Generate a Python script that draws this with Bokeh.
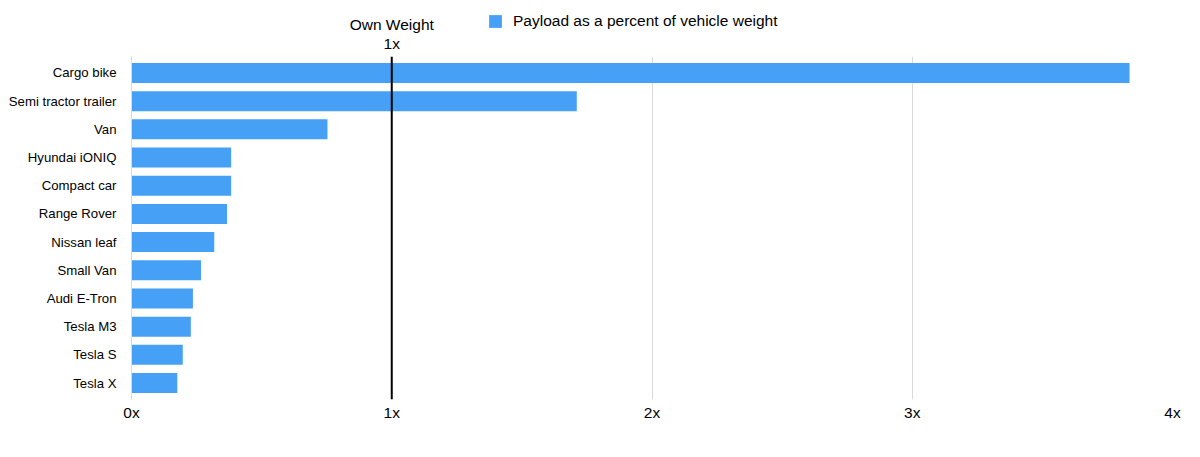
from bokeh.plotting import figure
from bokeh.models import FactorRange, Span, FixedTicker, Label, Range1d
from bokeh.layouts import column
from bokeh.embed import file_html
from bokeh.resources import INLINE

categories = ["Cargo bike", "Semi tractor trailer", "Van", "Hyundai iONIQ", "Compact car",
              "Range Rover", "Nissan leaf", "Small Van", "Audi E-Tron", "Tesla M3",
              "Tesla S", "Tesla X"]
payload_ratio = [3.835, 1.711, 0.753, 0.383, 0.383, 0.367, 0.318, 0.267, 0.236, 0.228, 0.197, 0.176]
x_ticks = [0, 1, 2, 3, 4]
x_tick_labels = ["0x", "1x", "2x", "3x", "4x"]
series_name = "Payload as a percent of vehicle weight"
ref_value = 1
ref_title = "Own Weight"
ref_label = "1x"

FONT = "Liberation Sans"
BLUE = "#46a0f6"
TOP_H = 56

# ---------- main chart ----------
yr = FactorRange(*list(reversed(categories)), range_padding=0.014)
p = figure(width=1200, height=457 - TOP_H, y_range=yr, x_range=(0, 4),
           output_backend="svg", toolbar_location=None,
           min_border_left=131, min_border_right=28, min_border_top=0, min_border_bottom=58)
p.outline_line_color = None
p.background_fill_color = "white"

p.hbar(y=categories, right=payload_ratio, left=0, height=0.71, color=BLUE, line_color=None)

p.xaxis.ticker = FixedTicker(ticks=x_ticks)
p.xaxis.major_label_overrides = {t: l for t, l in zip(x_ticks, x_tick_labels)}
p.xaxis.axis_line_color = None
p.xaxis.major_tick_line_color = None
p.xaxis.minor_tick_line_color = None
p.xaxis.major_tick_out = 0
p.xaxis.major_label_standoff = 4
p.xaxis.major_label_text_font = FONT
p.xaxis.major_label_text_font_size = "15.5px"
p.xaxis.major_label_text_color = "black"

p.yaxis.axis_line_color = "#d9d9d9"
p.yaxis.major_tick_line_color = None
p.yaxis.minor_tick_line_color = None
p.yaxis.major_tick_out = 0
p.yaxis.major_label_standoff = 15
p.yaxis.major_label_text_font = FONT
p.yaxis.major_label_text_font_size = "13.2px"
p.yaxis.major_label_text_color = "black"

p.xgrid.ticker = FixedTicker(ticks=x_ticks)
p.xgrid.grid_line_color = "#d9d9d9"
p.xgrid.grid_line_width = 1
p.ygrid.grid_line_color = None

p.add_layout(Span(location=ref_value, dimension="height", line_color="black", line_width=2))

# ---------- header strip: legend + reference label ----------
top = figure(width=1200, height=TOP_H, x_range=p.x_range, y_range=Range1d(0, TOP_H),
             x_axis_type=None, y_axis_type=None,
             output_backend="svg", toolbar_location=None,
             min_border_left=131, min_border_right=28, min_border_top=0, min_border_bottom=0)
top.outline_line_color = None
top.grid.grid_line_color = None
top.background_fill_color = "white"

# zero-width, out-of-view proxy bar that only serves the legend swatch
top.hbar(y=[-TOP_H], left=[0], right=[0], height=1, color=BLUE, line_color=None,
         legend_label=series_name)
lg = top.legend[0]
lg.location = (356, 26.5)
lg.padding = 0
lg.margin = 0
lg.border_line_color = None
lg.background_fill_alpha = 0
lg.glyph_width = 16
lg.glyph_height = 16
lg.label_standoff = 10
lg.label_text_font = FONT
lg.label_text_font_size = "15.5px"
lg.label_text_color = "black"

top.add_layout(Label(x=ref_value, y=TOP_H - 24, text=ref_title,
                     text_align="center", text_baseline="middle",
                     text_font=FONT, text_font_size="15.5px", text_color="black"))
top.add_layout(Label(x=ref_value, y=TOP_H - 43, text=ref_label,
                     text_align="center", text_baseline="middle",
                     text_font=FONT, text_font_size="15.5px", text_color="black"))

layout = column(top, p, spacing=0)
open("out.html", "w").write(file_html(layout, INLINE))
